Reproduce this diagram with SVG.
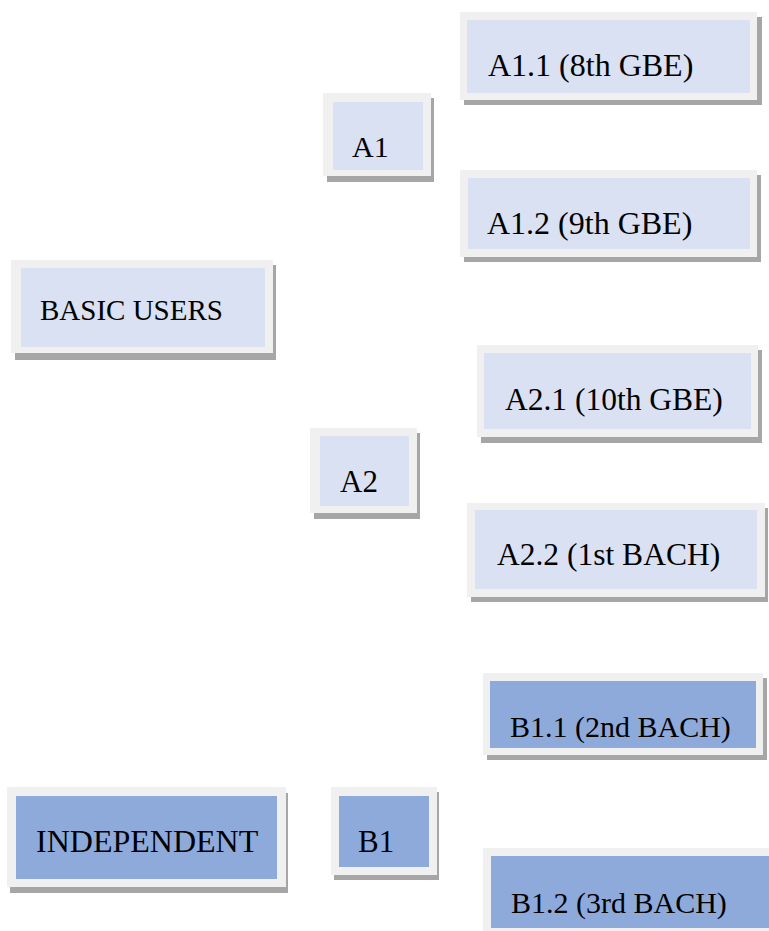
<svg xmlns="http://www.w3.org/2000/svg" width="769" height="931" viewBox="0 0 769 931">
<style>
.sh{fill:#a6a6a6}
.fr{fill:#f0f0f0}
.lt{fill:#dae1f2}
.dk{fill:#8eaadb}
.t{font-family:'Liberation Serif','Times New Roman',serif;fill:#000;font-size:30px}
</style>
<rect width="769" height="931" fill="#fff"/>
<g id="connectors"/>
<g id="n-a11">
<rect class="sh" x="464" y="17" width="298" height="88"/>
<rect class="fr" x="460" y="12" width="297" height="88"/>
<rect class="lt" x="467" y="20" width="283" height="73"/>
<text class="t" x="488" y="76" style="font-size:32px">A1.1 (8th GBE)</text>
</g>
<g id="n-a1">
<rect class="sh" x="327" y="98" width="107" height="84"/>
<rect class="fr" x="323" y="93" width="108" height="83"/>
<rect class="lt" x="333" y="102" width="90" height="68"/>
<text class="t" x="352" y="157">A1</text>
</g>
<g id="n-a12">
<rect class="sh" x="464" y="175" width="297" height="87"/>
<rect class="fr" x="460" y="170" width="297" height="87"/>
<rect class="lt" x="468" y="178" width="282" height="71"/>
<text class="t" x="487" y="234" style="font-size:32px">A1.2 (9th GBE)</text>
</g>
<g id="n-basic">
<rect class="sh" x="15" y="265" width="261" height="95"/>
<rect class="fr" x="11" y="260" width="262" height="93"/>
<rect class="lt" x="21" y="268" width="244" height="79"/>
<text class="t" x="40" y="320" style="font-size:29px">BASIC USERS</text>
</g>
<g id="n-a21">
<rect class="sh" x="481" y="350" width="281" height="93"/>
<rect class="fr" x="477" y="345" width="281" height="92"/>
<rect class="lt" x="484" y="353" width="267" height="76"/>
<text class="t" x="505" y="410" style="font-size:31.5px">A2.1 (10th GBE)</text>
</g>
<g id="n-a2">
<rect class="sh" x="314" y="433" width="106" height="86"/>
<rect class="fr" x="310" y="428" width="107" height="85"/>
<rect class="lt" x="320" y="436" width="89" height="70"/>
<text class="t" x="340" y="492" style="font-size:31px">A2</text>
</g>
<g id="n-a22">
<rect class="sh" x="471" y="508" width="297" height="94"/>
<rect class="fr" x="467" y="503" width="298" height="94"/>
<rect class="lt" x="475" y="510" width="282" height="79"/>
<text class="t" x="497" y="565" style="font-size:31.5px">A2.2 (1st BACH)</text>
</g>
<g id="n-b11">
<rect class="sh" x="487" y="678" width="280" height="82"/>
<rect class="fr" x="483" y="673" width="280" height="82"/>
<rect class="dk" x="490" y="681" width="266" height="67"/>
<text class="t" x="510" y="737">B1.1 (2nd BACH)</text>
</g>
<g id="n-indep">
<rect class="sh" x="10" y="793" width="278" height="100"/>
<rect class="fr" x="7" y="787" width="279" height="100"/>
<rect class="dk" x="16" y="796" width="261" height="83"/>
<text class="t" x="36" y="852" style="font-size:32px">INDEPENDENT</text>
</g>
<g id="n-b1">
<rect class="sh" x="334" y="792" width="105" height="88"/>
<rect class="fr" x="331" y="787" width="106" height="88"/>
<rect class="dk" x="339" y="796" width="90" height="71"/>
<text class="t" x="358" y="852" style="font-size:31px">B1</text>
</g>
<g id="n-b12">
<rect class="fr" x="483" y="848" width="300" height="90"/>
<rect class="dk" x="491" y="856" width="290" height="72"/>
<text class="t" x="511" y="913">B1.2 (3rd BACH)</text>
</g>
</svg>
